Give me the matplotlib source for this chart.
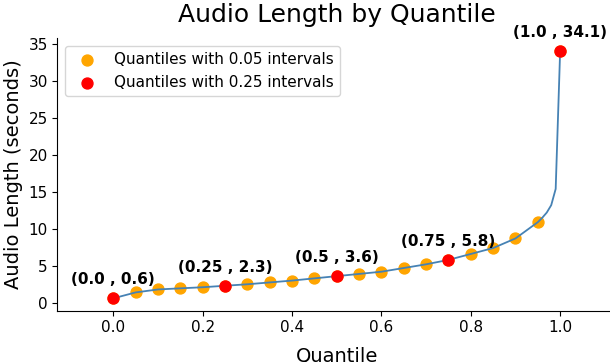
import numpy as np
import matplotlib
matplotlib.use("Agg")
import matplotlib.pyplot as plt

# quantiles at 0.05 steps and their audio lengths (seconds)
q_05 = [0.0, 0.05, 0.1, 0.15, 0.2, 0.25, 0.3, 0.35, 0.4, 0.45, 0.5,
        0.55, 0.6, 0.65, 0.7, 0.75, 0.8, 0.85, 0.9, 0.95, 1.0]
len_05 = [0.6, 1.4, 1.8, 1.95, 2.1, 2.3, 2.5, 2.75, 3.0, 3.3, 3.6,
          3.9, 4.2, 4.7, 5.2, 5.8, 6.6, 7.4, 8.7, 10.9, 34.1]

# quartiles
q_25 = [0.0, 0.25, 0.5, 0.75, 1.0]
len_25 = [0.6, 2.3, 3.6, 5.8, 34.1]

# finer curve near the top end
q_line = q_05[:-1] + [0.96, 0.97, 0.98, 0.99, 1.0]
len_line = len_05[:-1] + [11.5, 12.2, 13.2, 15.4, 34.1]

fig = plt.figure(figsize=(6.1, 3.62), dpi=100)
ax = fig.add_axes([57.5 / 610, 1 - 310.7 / 362, (616 - 57.5) / 610, (310.7 - 38.3) / 362])

ax.scatter(q_05, len_05, s=62, color="orange", zorder=2,
           label="Quantiles with 0.05 intervals")
ax.plot(q_line, len_line, color="steelblue", lw=1.3, zorder=3)
ax.scatter(q_25, len_25, s=62, color="red", zorder=4,
           label="Quantiles with 0.25 intervals")

for x, y in zip(q_25, len_25):
    ax.annotate(f"({x} , {y})", (x, y), xytext=(0, 8), textcoords="offset points",
                ha="center", va="bottom", fontsize=11, fontweight="bold")

ax.set_xlim(-0.125, 1.125)
ax.spines["top"].set_visible(False)
ax.spines["right"].set_visible(False)
ax.tick_params(labelsize=11)
ax.set_xlabel("Quantile", fontsize=14, labelpad=8)
ax.set_ylabel("Audio Length (seconds)", fontsize=14)
ax.set_title("Audio Length by Quantile", fontsize=18, pad=12)
ax.legend(loc="upper left", fontsize=11)

fig.savefig("out.png", dpi=100)
